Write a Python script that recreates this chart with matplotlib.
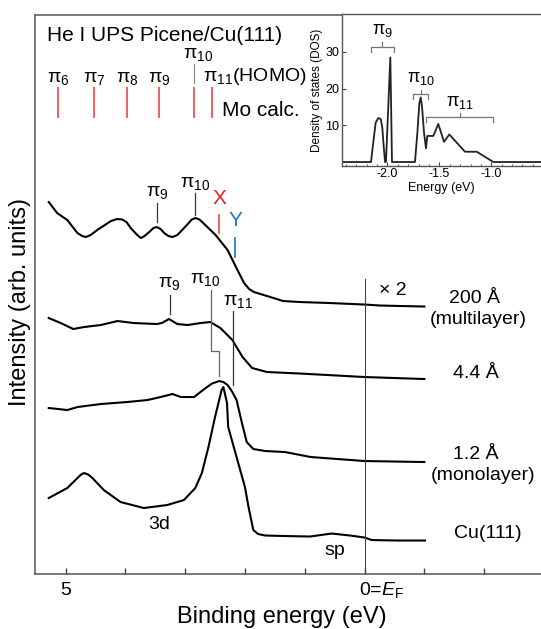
import matplotlib.pyplot as plt
from matplotlib.ticker import MultipleLocator

plt.rcParams['font.family'] = ['Liberation Sans', 'DejaVu Sans']
plt.rcParams['mathtext.fontset'] = 'custom'
plt.rcParams['mathtext.rm'] = 'Liberation Sans'
plt.rcParams['mathtext.it'] = 'Liberation Sans:italic'
plt.rcParams['mathtext.default'] = 'regular'

# UPS spectra: binding energy (eV) and intensity (arb. units, offset)
be_200 = [5.28, 5.14, 4.97, 4.80, 4.72, 4.66, 4.58, 4.47, 4.24, 4.14, 4.05, 3.98,
          3.91, 3.80, 3.74, 3.68, 3.60, 3.53, 3.475, 3.41, 3.35, 3.28, 3.21, 3.13,
          3.05, 2.94, 2.89, 2.83, 2.76, 2.68, 2.49, 2.29, 2.15, 2.015, 1.93, 1.85,
          1.74, 1.63, 1.36, 1.08, 0.58, 0.0, -0.26, -1.0]
i_200 = [37.2, 36.1, 35.4, 34.1, 33.8, 33.7, 33.9, 34.4, 35.3, 35.5, 35.45, 35.2,
         34.6, 33.9, 33.6, 33.8, 34.2, 34.6, 34.7, 34.5, 34.1, 33.8, 33.7, 33.9,
         34.4, 35.1, 35.45, 35.6, 35.45, 35.0, 33.9, 32.4, 30.7, 29.1, 28.5, 28.2,
         28.0, 27.8, 27.3, 27.2, 27.1, 26.95, 26.85, 26.75]

be_44 = [5.28, 5.08, 4.87, 4.69, 4.41, 4.13, 3.86, 3.47, 3.39, 3.27, 3.13, 2.96,
         2.74, 2.58, 2.41, 2.21, 2.04, 1.88, 1.63, 1.08, 0.0, -1.0]
i_44 = [25.6, 25.1, 24.5, 24.7, 24.9, 25.3, 25.1, 25.0, 25.1, 25.5, 25.0, 24.9,
        25.1, 25.2, 24.6, 23.4, 21.7, 20.6, 20.2, 20.05, 19.7, 19.5]

be_12 = [5.28, 4.97, 4.80, 4.41, 3.97, 3.63, 3.41, 3.21, 3.07, 2.85, 2.68, 2.55,
         2.43, 2.36, 2.29, 2.22, 2.14, 2.05, 1.97, 1.86, 1.66, 1.33, 0.90, 0.0, -1.0]
i_12 = [16.6, 16.4, 16.7, 17.0, 17.2, 17.4, 17.7, 18.0, 17.7, 17.7, 18.5, 19.05,
        19.3, 19.2, 18.9, 18.3, 17.4, 15.1, 13.2, 12.5, 12.3, 12.2, 11.7, 11.3, 11.2]

be_cu = [5.28, 4.97, 4.80, 4.74, 4.69, 4.62, 4.55, 4.36, 4.08, 3.69, 3.30, 3.02,
         2.83, 2.72, 2.61, 2.50, 2.39, 2.36, 2.30, 2.28, 2.14, 2.00, 1.94, 1.86,
         1.78, 1.66, 1.33, 0.91, 0.55, 0.24, 0.0, -0.12, -0.54, -1.01]
i_cu = [7.6, 8.6, 9.6, 9.95, 10.1, 9.95, 9.6, 8.4, 7.2, 6.6, 6.9, 7.4,
        8.6, 10.1, 12.7, 15.7, 18.4, 18.7, 17.1, 14.7, 11.7, 8.7, 6.7, 4.4,
        4.0, 3.85, 3.8, 3.75, 4.05, 3.85, 3.65, 3.4, 3.35, 3.35]

labels_right = ['200 Å', '(multilayer)', '4.4 Å', '1.2 Å', '(monolayer)', 'Cu(111)']

# calculated MO energies (eV)
mo_e = [5.125, 4.52, 3.97, 3.435, 2.85, 2.55]
mo_names = ['π$_6$', 'π$_7$', 'π$_8$', 'π$_9$', 'π$_{10}$', 'π$_{11}$']

# DOS inset
dos_e = [-2.43, -2.157, -2.135, -2.112, -2.087, -2.063, -2.048, -2.035, -2.022, -2.013,
         -1.971, -1.955, -1.734, -1.711, -1.692, -1.679, -1.666, -1.647, -1.628, -1.615,
         -1.558, -1.535, -1.51, -1.455, -1.404, -1.253, -1.14, -0.98, -0.5]
dos = [0, 0, 5.3, 10.7, 12.0, 11.7, 9.3, 4.3, 0, 0,
       28.5, 0, 0, 7.9, 16.0, 17.6, 15.0, 8.0, 3.7, 7.1,
       7.1, 8.6, 10.4, 5.5, 7.5, 2.8, 2.8, 0, 0]

fig = plt.figure(figsize=(5.41, 6.29), dpi=100)
ax = fig.add_axes([0.0647, 0.0874, 0.9353, 0.8895])

for be, inten in [(be_200, i_200), (be_44, i_44), (be_12, i_12), (be_cu, i_cu)]:
    ax.plot(be, inten, color='black', lw=1.5, solid_joinstyle='round')

ax.set_xlim(5.51, -2.95)
ax.set_ylim(0, 55.95)
ax.set_xticks(range(5, -3, -1))
ax.set_xticklabels([''] * 8)
ax.set_yticks([])
ax.tick_params(axis='x', direction='in', length=4, width=1, color='#444')
ax.spines['right'].set_visible(False)
for s in ['left', 'bottom', 'top']:
    ax.spines[s].set_color('#555')
    ax.spines[s].set_linewidth(1.1)

tr = ax.get_xaxis_transform()
ax.text(5, -0.029, '5', transform=tr, ha='center', va='center', fontsize=14)
ax.text(0.092, -0.029, '0=$\\mathit{E}_\\mathrm{F}$', transform=tr, ha='left',
        va='center', fontsize=14)
fig.text(0.521, 0.002, 'Binding energy (eV)', ha='center', va='bottom', fontsize=17)
fig.text(0.037, 0.52, 'Intensity (arb. units)', rotation=90, ha='center',
         va='center', fontsize=17)

# Fermi level
ax.plot([0, 0], [0, 29.5], color='#444', lw=0.8)
ax.text(-0.48, 28.4, '× 2', ha='center', va='center', fontsize=14)

# header + MO calc
ax.text(5.31, 53.9, 'He I UPS Picene/Cu(111)', ha='left', va='center', fontsize=15)
ax.vlines(mo_e, 45.6, 48.7, colors='#f05555', lw=1.3)
for e, n in zip(mo_e[:4], mo_names[:4]):
    ax.text(e, 48.7, n, ha='center', va='bottom', fontsize=14)
ax.text(2.775, 51.1, mo_names[4], ha='center', va='bottom', fontsize=14)
ax.plot([mo_e[4], mo_e[4]], [49.1, 51.0], color='#888', lw=0.9)
ax.text(2.70, 48.7, mo_names[5] + '(HOMO)', ha='left', va='bottom', fontsize=14)
ax.text(2.39, 46.4, 'Mo calc.', ha='left', va='center', fontsize=15)

# peaks of 200 A
ax.plot([3.475, 3.475], [35.2, 37.1], color='#333', lw=0.9)
ax.text(3.46, 37.3, 'π$_9$', ha='center', va='bottom', fontsize=14)
ax.plot([2.834, 2.834], [35.9, 38.1], color='#333', lw=0.9)
ax.text(2.83, 38.2, 'π$_{10}$', ha='center', va='bottom', fontsize=14)
ax.plot([2.433, 2.433], [34.1, 35.9], color='#f05555', lw=1.3)
ax.text(2.433, 37.6, 'X', color='#ee2222', ha='center', va='center', fontsize=15)
ax.plot([2.166, 2.166], [31.7, 33.6], color='#2a7fd0', lw=1.3)
ax.text(2.154, 35.4, 'Y', color='#1f78d0', ha='center', va='center', fontsize=15)

# peaks of 4.4 A
ax.plot([3.257, 3.257], [26.0, 27.9], color='#333', lw=0.9)
ax.text(3.27, 28.2, 'π$_9$', ha='center', va='bottom', fontsize=14)
ax.plot([2.575, 2.575, 2.433, 2.433], [28.4, 22.3, 22.3, 19.8], color='#666', lw=0.9)
ax.text(2.67, 28.6, 'π$_{10}$', ha='center', va='bottom', fontsize=14)
ax.plot([2.199, 2.199], [18.9, 26.3], color='#333', lw=0.9)
ax.text(2.12, 26.4, 'π$_{11}$', ha='center', va='bottom', fontsize=14)

# labels
ax.text(-1.84, 27.6, labels_right[0], ha='center', va='center', fontsize=14)
ax.text(-1.90, 25.5, labels_right[1], ha='center', va='center', fontsize=14)
ax.text(-1.865, 20.1, labels_right[2], ha='center', va='center', fontsize=14)
ax.text(-1.865, 12.0, labels_right[3], ha='center', va='center', fontsize=14)
ax.text(-1.98, 9.9, labels_right[4], ha='center', va='center', fontsize=14)
ax.text(-2.065, 4.1, labels_right[5], ha='center', va='center', fontsize=14)
ax.text(3.44, 5.0, '3d', ha='center', va='center', fontsize=14)
ax.text(0.50, 2.4, 'sp', ha='center', va='center', fontsize=14)

# inset DOS
axi = fig.add_axes([0.6327, 0.7366, 0.3673, 0.2404])
axi.plot(dos_e, dos, color='#222', lw=1.3)
axi.set_xlim(-2.433, -0.522)
axi.set_ylim(-1.0, 40.2)
axi.set_xticks([-2.0, -1.5, -1.0])
axi.set_xticklabels(['-2.0', '-1.5', '-1.0'])
axi.xaxis.set_minor_locator(MultipleLocator(0.1))
axi.set_yticks([10, 20, 30])
axi.tick_params(direction='in', labelsize=9, length=3, width=0.8, color='#444', pad=2)
axi.tick_params(which='minor', direction='in', length=1.5, width=0.6, color='#444')
axi.set_xlabel('Energy (eV)', fontsize=9, labelpad=1)
axi.set_ylabel('Density of states (DOS)', fontsize=8.5, labelpad=2)
axi.spines['right'].set_visible(False)
for s in ['left', 'bottom', 'top']:
    axi.spines[s].set_color('#555')
    axi.spines[s].set_linewidth(1.0)

# brackets
for (x0, x1, yb, ytop, xc, name, yl) in [(-2.16, -1.933, 31.4, 32.8, -2.047, 'π$_9$', 33.6),
                                         (-1.756, -1.606, 18.4, 19.6, -1.676, 'π$_{10}$', 20.4),
                                         (-1.631, -0.981, 12.2, 13.4, -1.30, 'π$_{11}$', 14.0)]:
    axi.plot([x0, x0, x1, x1], [yb - 1.3, yb, yb, yb - 1.3], color='#777', lw=0.9)
    axi.plot([xc, xc], [yb, ytop], color='#777', lw=0.9)
    axi.text(xc, yl, name, ha='center', va='bottom', fontsize=13)

fig.savefig('out.png', dpi=100)
